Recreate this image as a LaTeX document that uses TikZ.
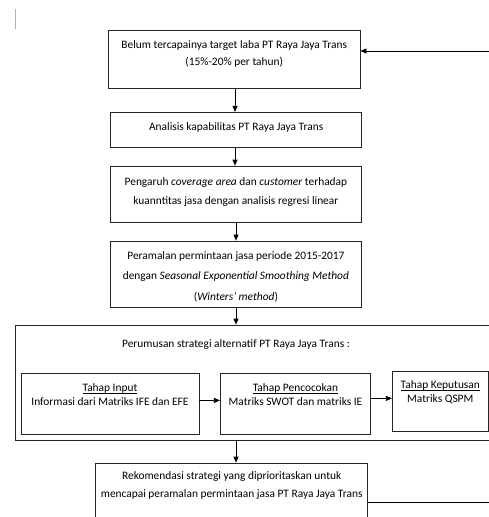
\documentclass[tikz,border=0pt]{standalone}
\usepackage{fontspec}
\setmainfont{Carlito}
\usetikzlibrary{arrows.meta}
\newcommand{\ulbox}[1]{\underline{\smash{#1}}\vphantom{#1}}
\begin{document}
\begin{tikzpicture}[x=1pt,y=-1pt,
  box/.style={draw=black!85,line width=0.7pt,inner sep=0pt,anchor=center},
  txt/.style={inner sep=0pt,anchor=center,font=\fontsize{11.4}{13}\selectfont},
  arr/.style={draw=black,line width=0.7pt,-{Triangle[length=6pt,width=5pt]}},
  ln/.style={draw=black,line width=0.7pt}]
\clip (0,0) rectangle (489,517);
\fill[white] (0,0) rectangle (489,517);
% cursor mark
\draw[gray!60,line width=1.2pt] (15.5,9) -- (15.5,29);
% boxes
\node[box,minimum width=251.7pt,minimum height=58pt] (b1) at (234.2,59.3) {};
\node[box,minimum width=251pt,minimum height=35pt] (b2) at (236.2,129.8) {};
\node[box,minimum width=250.3pt,minimum height=56pt] (b3) at (235.9,194) {};
\node[box,minimum width=250.3pt,minimum height=66pt] (b4) at (235.9,274) {};
\node[box,minimum width=484.3pt,minimum height=115pt] (big) at (257.8,382.5) {};
\node[box,minimum width=178pt,minimum height=60.7pt] (i1) at (110,403.7) {};
\node[box,minimum width=150.4pt,minimum height=60.7pt] (i2) at (295.5,403.7) {};
\node[box,minimum width=96pt,minimum height=60pt] (i3) at (440.3,401.7) {};
\node[box,minimum width=272pt,minimum height=67pt] (b5) at (231.7,496.5) {};
% texts
\node[txt] (t1a) at (234.2,46) {Belum tercapainya target laba PT Raya Jaya Trans};
\node[txt] (t1b) at (234.2,62.7) {(15\%-20\% per tahun)};
\node[txt] (t2) at (236.2,127.7) {Analisis kapabilitas PT Raya Jaya Trans};
\node[txt] (t3a) at (235.9,182.3) {Pengaruh \textit{coverage area} dan \textit{customer} terhadap};
\node[txt] (t3b) at (235.9,201.7) {kuanntitas jasa dengan analisis regresi linear};
\node[txt] (t4a) at (235.9,256.7) {Peramalan permintaan jasa periode 2015-2017};
\node[txt] (t4b) at (235.9,277) {dengan \textit{Seasonal Exponential Smoothing Method}};
\node[txt] (t4c) at (235.9,296.7) {(\textit{Winters' method})};
\node[txt] (tb) at (236,344.3) {Perumusan strategi alternatif PT Raya Jaya Trans :};
\node[txt] (i1a) at (110,389) {\ulbox{Tahap Input}};
\node[txt] (i1b) at (110,401.5) {Informasi dari Matriks IFE dan EFE};
\node[txt] (i2a) at (295.5,389) {\ulbox{Tahap Pencocokan}};
\node[txt] (i2b) at (295.5,401.5) {Matriks SWOT dan matriks IE};
\node[txt] (i3a) at (440.3,386) {\ulbox{Tahap Keputusan}};
\node[txt] (i3b) at (440.3,399.5) {Matriks QSPM};
\node[txt] (t5a) at (231.7,476.7) {Rekomendasi strategi yang diprioritaskan untuk};
\node[txt] (t5b) at (231.7,494.3) {mencapai peramalan permintaan jasa PT Raya Jaya Trans};
% connectors
\coordinate (c1) at (235,0);
\draw[arr] (b1.south -| c1) -- (b2.north -| c1);
\draw[arr] (b2.south -| c1) -- (b3.north -| c1);
\coordinate (c2) at (236,0);
\draw[arr] (b3.south -| c2) -- (b4.north -| c2);
\draw[arr] (b4.south -| c2) -- (big.north -| c2);
\draw[arr] (big.south -| c2) -- (b5.north -| c2);
\coordinate (r1) at (0,400.4);
\draw[arr] (i1.east |- r1) -- (i2.west |- r1);
\coordinate (r2) at (0,398.4);
\draw[arr] (i2.east |- r2) -- (i3.west |- r2);
\coordinate (fbB) at (500,502);
\coordinate (fbT) at (500,51);
\draw[ln] (b5.east |- fbB) -- (fbB) -- (fbT);
\draw[arr] (fbT) -- (b1.east |- fbT);
\end{tikzpicture}
\end{document}
